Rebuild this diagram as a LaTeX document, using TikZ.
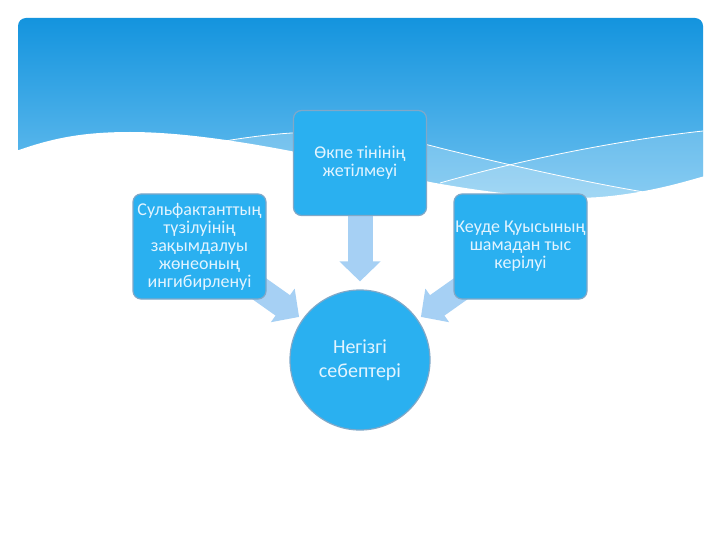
\documentclass[tikz,border=0pt]{standalone}
\usepackage{fontspec}
\setmainfont{Carlito}
\usetikzlibrary{arrows.meta}
\pgfdeclarelayer{bg}
\pgfsetlayers{bg,main}
\definecolor{hdrtop}{RGB}{20,148,222}
\definecolor{hdrbot}{RGB}{112,194,240}
\definecolor{boxblue}{RGB}{42,176,240}
\definecolor{boxedge}{RGB}{128,168,200}
\definecolor{arrowblue}{RGB}{166,208,244}
\definecolor{txt}{RGB}{226,244,255}
\tikzset{
  causebox/.style={rectangle, rounded corners=8pt, fill=boxblue, draw=boxedge,
    line width=1.2pt, minimum width=133pt, minimum height=105pt, inner sep=0pt,
    align=center, text=txt, font=\fontsize{18}{18}\selectfont},
  maincirc/.style={circle, fill=boxblue, draw=boxedge, line width=1.2pt,
    minimum size=140pt, inner sep=0pt, align=center, text=txt,
    font=\fontsize{20}{24}\selectfont},
  bigarrow/.style={draw=arrowblue, line width=25pt,
    -{Triangle[width=40pt,length=20pt]}},
  waveline/.style={draw=white, line width=0.8pt}
}
\begin{document}
\begin{tikzpicture}[x=1pt,y=-1pt]
\useasboundingbox (0,0) rectangle (720,540);
\begin{pgfonlayer}{bg}
  \fill[white] (0,0) rectangle (720,540);
  % header
  \shade[top color=hdrtop, bottom color=hdrbot, rounded corners=8pt]
    (18,18) rectangle (703,205);
  % lighter bands
  \fill[white, opacity=0.22] (225,141) .. controls (320,125) and (380,132) .. (440,148)
     .. controls (520,168) and (600,185) .. (650,193) -- (650,205) -- (225,205) -- cycle;
  \fill[white, opacity=0.18] (440,183) .. controls (520,160) and (620,140) .. (703,131)
     -- (703,205) -- (440,205) -- cycle;
  % white wave
  \fill[white] (16,151) .. controls (50,139) and (80,132) .. (130,132)
     .. controls (200,132) and (300,150) .. (430,182)
     .. controls (500,195) and (560,200) .. (600,197)
     .. controls (650,193) and (690,180) .. (705,176)
     -- (705,210) -- (16,210) -- cycle;
  % thin white lines
  \draw[waveline] (225,141) .. controls (320,125) and (380,132) .. (440,148)
     .. controls (520,168) and (600,185) .. (650,193);
  \draw[waveline] (440,183) .. controls (520,160) and (620,140) .. (703,131);
\end{pgfonlayer}

\node[causebox] (top) at (360,163) {Өкпе тінінің\\жетілмеуі};
\node[causebox] (left) at (199.5,246.5) {Сульфактанттың\\түзілуінің\\зақымдалуы\\жөнеоның\\ингибирленуі};
\node[causebox] (right) at (520.5,246.5) {Кеуде Қуысының\\шамадан тыс\\керілуі};
\node[maincirc] (circ) at (360,360) {Негізгі\\себептері};

\begin{pgfonlayer}{bg}
  \draw[bigarrow, shorten >=8pt] (top.center) -- (circ);
  \draw[bigarrow, shorten >=4pt] (left.center) -- (circ);
  \draw[bigarrow, shorten >=4pt] (right.center) -- (circ);
\end{pgfonlayer}
\end{tikzpicture}
\end{document}
